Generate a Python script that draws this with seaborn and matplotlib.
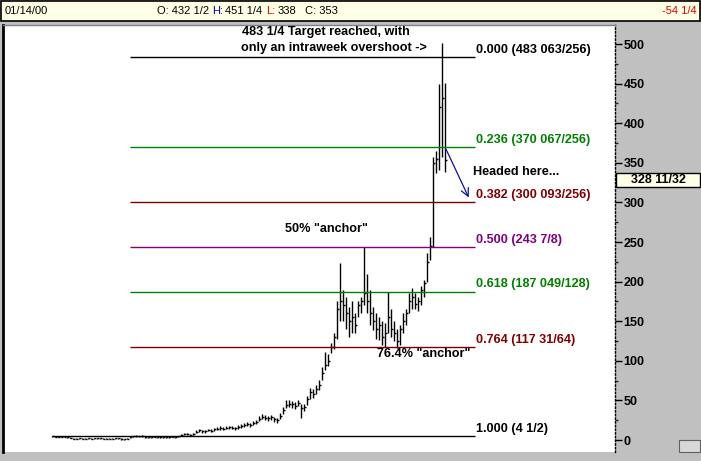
import matplotlib
matplotlib.use("Agg")
import matplotlib.pyplot as plt
import matplotlib.patches as mpatches
from matplotlib.ticker import MultipleLocator
import seaborn as sns
import numpy as np

sns.set_style("white")
plt.rcParams['font.family'] = ['Liberation Sans', 'DejaVu Sans']

# ---------------- data (weekly bars) ----------------
closes = [4.5,4.2,4.0,4.1,3.8,3.5,3.0,
          1.8,1.5,1.9,1.6,1.4,2.0,1.8,2.2,2.0,1.9,1.7,1.5,1.4,1.8,2.3,2.0,1.2,1.0,1.5,
          3.5,4.5,5.0,4.6,4.8,3.9,3.2,
          3.6,4.0,3.4,3.8,3.5,3.2,3.7,4.1,3.6,4.5,
          6.0,7.5,7.0,6.5,7.8,
          10.5,12.0,11.0,10.8,12.5,11.8,
          13.5,14.5,15.0,14.2,15.5,16.0,15.3,14.8,16.5,17.5,
          18.5,20.0,19.0,21.0,22.5,
          27.0,29.5,
          28.0,27.5,28.5,26.0,25.0,
          30.0,38.0,
          44.0,46.0,45.0,43.5,47.0,
          40.0,42.0,
          52.0,60.0,58.0,65.0,70.0,
          85.0,95.0,100.0,
          118,130,165,175,170,160,150,155,145,170,175,185,175,160,150,140,145,130,135,155,
          140,135,125,140,150,160,175,180,172,175,190,198,225,245,350,355,420,432,353]
highs = [5.2,4.8,4.6,4.7,4.4,4.1,3.6,
         2.5,2.2,2.6,2.3,2.1,2.7,2.5,2.9,2.7,2.6,2.4,2.2,2.1,2.5,3.0,2.7,1.9,1.8,2.3,
         4.3,5.4,5.9,5.5,5.7,4.8,4.0,
         4.4,4.8,4.2,4.6,4.3,4.0,4.5,4.9,4.4,5.4,
         7.2,8.8,8.3,7.8,9.2,
         12.3,13.8,12.8,12.5,14.3,13.5,
         15.5,16.6,17.1,16.2,17.6,18.2,17.4,16.8,18.7,19.8,
         21.0,22.5,21.5,23.6,25.5,
         30.5,33.0,
         31.0,30.5,31.8,29.0,28.0,
         33.5,42.0,
         50.0,51.0,49.0,48.0,50.5,
         45.0,46.0,
         56.0,66.0,64.0,70.0,76.0,
         92.0,111.0,108.0,
         122,135,175,223,189,180,168,175,160,175,180,244,210,190,168,160,155,150,148,187,
         165,150,140,145,160,165,186,192,185,180,195,202,236,256,357,365,450,501,451.25]
lows = [3.8,3.6,3.5,3.5,3.2,2.9,2.2,
        1.1,0.9,1.2,1.0,0.8,1.3,1.1,1.5,1.3,1.2,1.0,0.9,0.8,1.1,1.6,1.3,0.6,0.4,0.8,
        2.6,3.6,4.1,3.8,3.9,3.0,2.4,
        2.8,3.2,2.7,3.0,2.8,2.5,2.9,3.3,2.8,3.6,
        4.8,6.2,5.8,5.3,6.5,
        8.8,10.3,9.4,9.2,10.8,10.2,
        11.8,12.6,13.1,12.4,13.6,14.0,13.4,12.9,14.5,15.4,
        16.2,17.7,16.8,18.6,20.0,
        23.5,26.0,
        25.0,24.5,25.5,22.5,21.0,
        26.0,33.0,
        40.0,42.0,41.0,39.0,42.5,
        28.0,36.0,
        44.0,52.0,53.0,58.0,63.0,
        76.0,88.0,94.0,
        110,115,128,150,150,140,130,135,135,155,160,170,160,145,139,128,126,120,117,135,
        130,125,116,120,135,145,160,165,165,163,170,180,200,227,244,337,341,357,338]

fib_ratios = ["0.000", "0.236", "0.382", "0.500", "0.618", "0.764", "1.000"]
fib_values = [483 + 63/256, 370 + 67/256, 300 + 93/256, 243.875, 187 + 49/128, 117 + 31/64, 4.5]
fib_texts = ["483 063/256", "370 067/256", "300 093/256", "243 7/8", "187 049/128", "117 31/64", "4 1/2"]
fib_colors = ["black", "#008000", "#800000", "#800080", "#008000", "#800000", "black"]
fib_start = [26, 26, 26, 26, 26, 26, 0]

y_ticks = [0, 50, 100, 150, 200, 250, 300, 350, 400, 450, 500]
last_price = 328 + 11/32

# ---------------- figure ----------------
W, H = 701, 461
fig = plt.figure(figsize=(W / 100, H / 100), dpi=100)
fig.patch.set_facecolor('#c0c0c0')

def fy(p):
    return 1 - p / H

ax = fig.add_axes([3 / W, 1 - 452 / H, 612 / W, 427 / H])
ax.set_facecolor('white')

idx = np.arange(len(closes))
ax.vlines(idx, lows, highs, color='black', lw=1.0)
ax.hlines(closes, idx, idx + 0.7, color='black', lw=1.0)

for r, v, t, c, s in zip(fib_ratios, fib_values, fib_texts, fib_colors, fib_start):
    ax.hlines(v, s, 141, color=c, lw=1.0)
    ax.text(141.3, v + 1.5, f"{r} ({t})", color=c, fontsize=9.1, fontweight='bold',
            ha='left', va='bottom')

bold = dict(fontsize=9.1, fontweight='bold', color='black', ha='left', va='center')
ax.text(63.3, 515, "483 1/4 Target reached, with", **bold)
ax.text(63.0, 495, "only an intraweek overshoot ->", **bold)
ax.text(140.3, 338, "Headed here...", **bold)
ax.text(77.7, 266, '50% "anchor"', **bold)
ax.text(108.3, 108.6, '76.4% "anchor"', **bold)
ax.annotate("", xy=(139.3, 303), xytext=(131, 370),
            arrowprops=dict(arrowstyle="->", color="#1010a0", lw=0.9,
                            mutation_scale=14))

ax.set_xlim(-16.33, 187.67)
ax.set_ylim(-15.15, 524.0)
ax.set_xticks([])
ax.yaxis.tick_right()
ax.set_yticks(y_ticks)
ax.set_yticklabels([str(t) for t in y_ticks])
ax.yaxis.set_minor_locator(MultipleLocator(25))
ax.tick_params(axis='y', which='major', direction='out', length=5, width=1,
               pad=1, labelsize=9, labelcolor='black', colors='black', right=True)
ax.tick_params(axis='y', which='minor', direction='out', length=2, width=1, right=True)
for lab in ax.get_yticklabels():
    lab.set_fontweight('bold')

ax.spines['left'].set_color('black')
ax.spines['left'].set_linewidth(2)
ax.spines['top'].set_color('#808080')
ax.spines['top'].set_linewidth(1)
ax.spines['bottom'].set_visible(False)
ax.spines['right'].set_color('black')
ax.spines['right'].set_linestyle(':')
ax.spines['right'].set_linewidth(1)

# header strip
hdr = mpatches.Rectangle((1 / W, fy(21)), 699 / W, 20 / H, transform=fig.transFigure,
                         facecolor='#ffffe6', edgecolor='black', lw=1.2)
fig.patches.append(hdr)
hy = fy(11)
fs = 8
fig.text(5 / W, hy, "01/14/00", fontsize=fs, color='black', va='center', ha='left')
fig.text(157 / W, hy, "O: 432 1/2", fontsize=fs, color='black', va='center', ha='left')
fig.text(212 / W, hy, "H:", fontsize=fs, color='#0000c0', va='center', ha='left')
fig.text(225 / W, hy, "451 1/4", fontsize=fs, color='black', va='center', ha='left')
fig.text(266 / W, hy, "L:", fontsize=fs, color='#e00000', va='center', ha='left')
fig.text(278 / W, hy, "338", fontsize=fs, color='black', va='center', ha='left')
fig.text(305 / W, hy, "C: 353", fontsize=fs, color='black', va='center', ha='left')
fig.text(697 / W, hy, "-54 1/4", fontsize=fs, color='#e00000', va='center', ha='right')

# current price box on the right scale
trans = matplotlib.transforms.blended_transform_factory(fig.transFigure, ax.transData)
box = mpatches.Rectangle((616 / W, last_price - 9.0), 84 / W, 18.0, transform=trans,
                         facecolor='#ffffe6', edgecolor='black', lw=1, clip_on=False)
fig.patches.append(box)
fig.text(658 / W, 0, "328 11/32", fontsize=9, color='black', fontweight='bold',
         ha='center', va='center', transform=trans).set_y(last_price)

# small icon bottom right
icon = mpatches.Rectangle((679 / W, fy(452)), 21 / W, 12 / H, transform=fig.transFigure,
                          facecolor='#d8d8d8', edgecolor='#606060', lw=0.8)
fig.patches.append(icon)

fig.savefig("out.png", dpi=100, facecolor=fig.get_facecolor())
